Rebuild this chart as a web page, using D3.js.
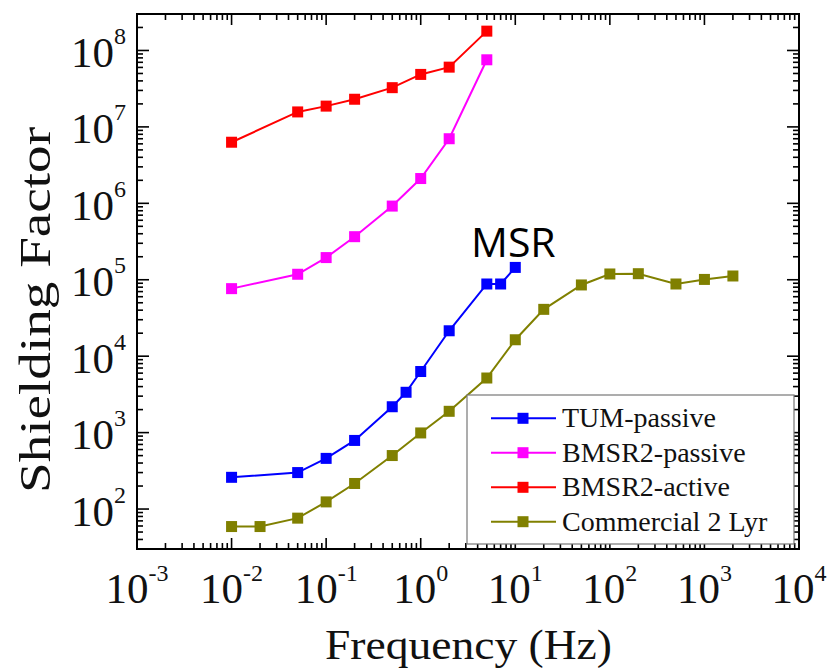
<!DOCTYPE html>
<html>
<head>
<meta charset="utf-8">
<script src="https://cdn.jsdelivr.net/npm/d3@7"></script>
<style>
  html, body { margin: 0; padding: 0; background: #fff; }
  svg { display: block; }
</style>
</head>
<body>
<svg id="chart" width="835" height="670"></svg>
<script>
// ---- data ----
const freqTUM = [0.01, 0.05, 0.1, 0.2, 0.5, 0.7, 1, 2, 5, 7, 10];
const tumPassive = [260, 300, 460, 790, 2180, 3370, 6300, 21500, 88000, 88000, 145000];

const freqBMSR = [0.01, 0.05, 0.1, 0.2, 0.5, 1, 2, 5];
const bmsr2Passive = [76500, 118000, 195000, 366000, 920000, 2110000, 7000000, 75500000];
const bmsr2Active = [6.3e6, 1.57e7, 1.87e7, 2.3e7, 3.26e7, 4.86e7, 6.05e7, 1.79e8];

const freqCommercial = [0.01, 0.02, 0.05, 0.1, 0.2, 0.5, 1, 2, 5, 10, 20, 50, 100, 200, 500, 1000, 2000];
const commercial2Lyr = [59, 59, 76, 124, 216, 501, 990, 1900, 5180, 16400, 41000, 85500, 119000, 120000, 88000, 101000, 112000];

const xTickExps = [-3, -2, -1, 0, 1, 2, 3, 4];
const yTickExps = [2, 3, 4, 5, 6, 7, 8];

const seriesNames = ["TUM-passive", "BMSR2-passive", "BMSR2-active", "Commercial 2 Lyr"];
const seriesColors = ["#0000ff", "#ff00ff", "#ff0000", "#808000"];
const xTitle = "Frequency (Hz)";
const yTitle = "Shielding Factor";
const annotation = "MSR";

// ---- layout ----
const L = 137, R = 799, T = 14, B = 549;
const svg = d3.select("#chart");
const x = d3.scaleLog().domain([1e-3, 1e4]).range([L, R]);
const y = d3.scaleLog().domain([30, 3e8]).range([B, T]);

const serif = "'Liberation Serif', 'Times New Roman', serif";

// ---- ticks (inward, all four sides) ----
function logTicks(lo, hi) {
  const out = [];
  for (let e = Math.floor(Math.log10(lo)); e <= Math.ceil(Math.log10(hi)); e++) {
    for (let m = 1; m <= 9; m++) {
      const v = m * Math.pow(10, e);
      if (v > lo * 1.0001 && v < hi * 0.9999) out.push({ v, major: m === 1 });
    }
  }
  return out;
}
const xt = logTicks(1e-3, 1e4);
const yt = logTicks(30, 3e8);
const tg = svg.append("g").attr("stroke", "#000").attr("stroke-width", 1.6);
xt.forEach(t => {
  const px = x(t.v), len = t.major ? 11 : 6;
  tg.append("line").attr("x1", px).attr("x2", px).attr("y1", B).attr("y2", B - len);
  tg.append("line").attr("x1", px).attr("x2", px).attr("y1", T).attr("y2", T + len);
});
yt.forEach(t => {
  const py = y(t.v), len = t.major ? 12 : 6;
  tg.append("line").attr("y1", py).attr("y2", py).attr("x1", L).attr("x2", L + len);
  tg.append("line").attr("y1", py).attr("y2", py).attr("x1", R).attr("x2", R - len);
});

// ---- tick labels ----
xTickExps.forEach(e => {
  const t = svg.append("text")
    .attr("x", x(Math.pow(10, e))).attr("y", 603)
    .attr("text-anchor", "middle")
    .attr("font-family", serif).attr("font-size", 43).attr("fill", "#111");
  t.append("tspan").text("10");
  t.append("tspan").attr("dy", -22).attr("font-size", 24).text(String(e));
});
yTickExps.forEach(e => {
  const t = svg.append("text")
    .attr("x", 126).attr("y", y(Math.pow(10, e)) + 16.5)
    .attr("text-anchor", "end")
    .attr("font-family", serif).attr("font-size", 43).attr("fill", "#111");
  t.append("tspan").text("10");
  t.append("tspan").attr("dy", -23).attr("font-size", 24).text(String(e));
});

// ---- axis titles ----
svg.append("text")
  .attr("x", (325 + 612) / 2).attr("y", 659)
  .attr("text-anchor", "middle")
  .attr("font-family", serif).attr("font-size", 42).attr("fill", "#111")
  .attr("textLength", 287).attr("lengthAdjust", "spacingAndGlyphs")
  .text(xTitle);
svg.append("text")
  .attr("transform", "translate(50,310) rotate(-90)")
  .attr("text-anchor", "middle")
  .attr("font-family", serif).attr("font-size", 45).attr("fill", "#111")
  .attr("textLength", 366).attr("lengthAdjust", "spacingAndGlyphs")
  .text(yTitle);

// ---- series ----
const series = [
  { f: freqTUM, v: tumPassive },
  { f: freqBMSR, v: bmsr2Passive },
  { f: freqBMSR, v: bmsr2Active },
  { f: freqCommercial, v: commercial2Lyr }
];
const line = d3.line().x(d => x(d[0])).y(d => y(d[1]));
const ms = 11;
series.forEach((s, i) => {
  const pts = s.f.map((f, j) => [f, s.v[j]]);
  svg.append("path").attr("d", line(pts)).attr("fill", "none")
    .attr("stroke", seriesColors[i]).attr("stroke-width", 2);
  svg.append("g").selectAll("rect").data(pts).join("rect")
    .attr("x", d => x(d[0]) - ms / 2).attr("y", d => y(d[1]) - ms / 2)
    .attr("width", ms).attr("height", ms).attr("fill", seriesColors[i]);
});

// ---- annotation ----
svg.append("text").attr("x", 471).attr("y", 257)
  .attr("font-family", "'Open Sans', 'Noto Sans', sans-serif").attr("font-size", 41)
  .attr("fill", "#000").text(annotation);

// ---- legend ----
const lg = svg.append("g");
lg.append("rect").attr("x", 467).attr("y", 395).attr("width", 327).attr("height", 149)
  .attr("fill", "#fff").attr("stroke", "#777").attr("stroke-width", 1.2);
const rowY = [418.3, 452.7, 487.3, 521.7];
seriesNames.forEach((n, i) => {
  const yy = rowY[i];
  lg.append("line").attr("x1", 491).attr("x2", 556).attr("y1", yy).attr("y2", yy)
    .attr("stroke", seriesColors[i]).attr("stroke-width", 2);
  lg.append("rect").attr("x", 523 - ms / 2).attr("y", yy - ms / 2)
    .attr("width", ms).attr("height", ms).attr("fill", seriesColors[i]);
  lg.append("text").attr("x", 562).attr("y", yy + 9)
    .attr("font-family", serif).attr("font-size", 28).attr("fill", "#111").text(n);
});

// ---- frame ----
svg.append("rect").attr("x", L).attr("y", T).attr("width", R - L).attr("height", B - T)
  .attr("fill", "none").attr("stroke", "#000").attr("stroke-width", 2);
</script>
</body>
</html>
